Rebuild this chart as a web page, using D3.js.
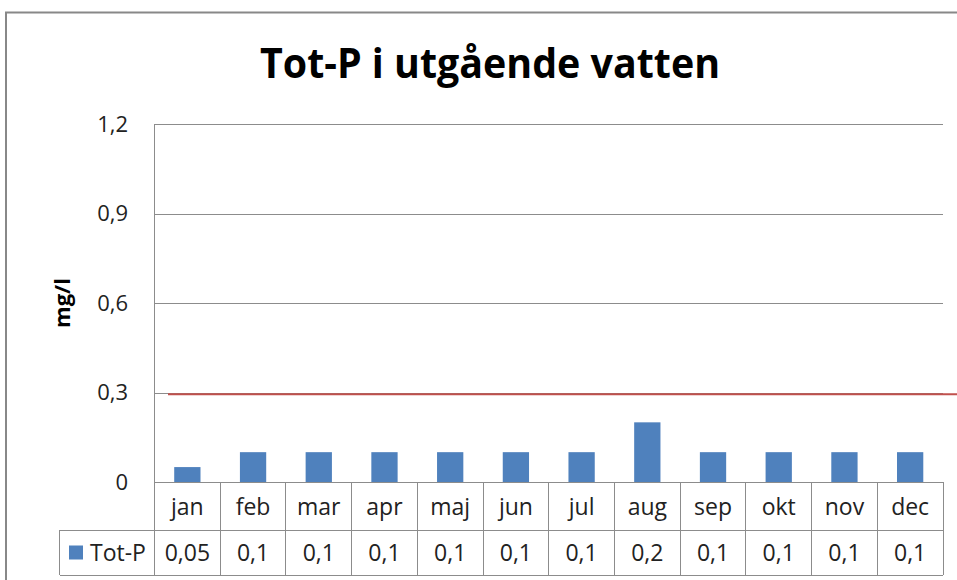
<!DOCTYPE html>
<html>
<head>
<meta charset="utf-8">
<script src="https://cdn.jsdelivr.net/npm/d3@7"></script>
<style>
  body { margin: 0; background: #fff; }
  svg { display: block; font-family: "Open Sans", sans-serif; }
</style>
</head>
<body>
<div id="chart"></div>
<script>
'use strict'

// data
const months = ["jan", "feb", "mar", "apr", "maj", "jun", "jul", "aug", "sep", "okt", "nov", "dec"];
const totP = [0.05, 0.1, 0.1, 0.1, 0.1, 0.1, 0.1, 0.2, 0.1, 0.1, 0.1, 0.1];
const yTicks = [0, 0.3, 0.6, 0.9, 1.2];
const limitValue = 0.294;
const seriesName = "Tot-P";
const title = "Tot-P i utgående vatten";
const yLabel = "mg/l";

const W = 957, H = 580;
const plot = {left: 154.5, right: 943, top: 124, bottom: 482};
const rowH = [48, 45];
const tableLeft = 59.5;
const blue = "#4F81BD";
const grey = "#8C8C8C";

const fmt = v => String(v).replace(".", ",");

const svg = d3.select("#chart").append("svg")
    .attr("width", W)
    .attr("height", H);

// chart area border
svg.append("rect")
    .attr("x", 6).attr("y", 12.5)
    .attr("width", W + 10).attr("height", H + 10)
    .attr("fill", "#fff")
    .attr("stroke", "#888")
    .attr("stroke-width", 2);

// title
svg.append("text")
    .attr("x", 490).attr("y", 78)
    .attr("text-anchor", "middle")
    .attr("font-size", 41)
    .attr("font-weight", "bold")
    .attr("textLength", 460)
    .attr("lengthAdjust", "spacingAndGlyphs")
    .attr("fill", "#000")
    .text(title);

const y = d3.scaleLinear()
    .domain([0, 1.2])
    .range([plot.bottom, plot.top]);

const x = d3.scaleBand()
    .domain(months)
    .range([plot.left, plot.right])
    .paddingInner(0.6)
    .paddingOuter(0.3);

const cols = d3.scaleBand()
    .domain(months)
    .range([plot.left, plot.right]);

// gridlines
svg.append("g")
    .attr("transform", `translate(${plot.left},0)`)
    .call(d3.axisLeft(y).tickValues(yTicks).tickSize(-(plot.right - plot.left)).tickFormat(""))
    .call(g => g.select(".domain").remove())
    .call(g => g.selectAll("line").attr("stroke", grey).attr("stroke-width", 1).attr("shape-rendering", "crispEdges"));

// y axis line
svg.append("line")
    .attr("x1", plot.left).attr("x2", plot.left)
    .attr("y1", plot.top).attr("y2", plot.bottom)
    .attr("stroke", grey)
    .attr("shape-rendering", "crispEdges");

// y tick labels
svg.append("g")
    .selectAll("text")
    .data(yTicks)
    .join("text")
    .attr("x", 128)
    .attr("y", d => y(d))
    .attr("dy", "0.35em")
    .attr("text-anchor", "end")
    .attr("font-size", 22)
    .attr("fill", "#222")
    .text(d => fmt(d));

// y label
svg.append("text")
    .attr("transform", `translate(70,${(plot.top + plot.bottom) / 2}) rotate(-90)`)
    .attr("text-anchor", "middle")
    .attr("font-size", 22)
    .attr("font-weight", "bold")
    .attr("fill", "#000")
    .text(yLabel);

// bars
svg.append("g")
    .selectAll("rect")
    .data(months.map((m, i) => ({m, v: totP[i]})))
    .join("rect")
    .attr("x", d => x(d.m))
    .attr("y", d => y(d.v))
    .attr("width", x.bandwidth())
    .attr("height", d => y(0) - y(d.v))
    .attr("fill", blue);

// red limit line
svg.append("line")
    .attr("x1", 168).attr("x2", W)
    .attr("y1", y(limitValue)).attr("y2", y(limitValue))
    .attr("stroke", "#C0504D")
    .attr("stroke-width", 2);

// data table
const row1 = plot.bottom, row2 = row1 + rowH[0], row3 = row2 + rowH[1];
const table = svg.append("g")
    .attr("stroke", grey)
    .attr("shape-rendering", "crispEdges");

table.append("line").attr("x1", plot.left).attr("x2", plot.right).attr("y1", row1).attr("y2", row1);
table.append("line").attr("x1", tableLeft).attr("x2", plot.right).attr("y1", row2).attr("y2", row2);
table.append("line").attr("x1", tableLeft).attr("x2", plot.right).attr("y1", row3).attr("y2", row3);
table.append("line").attr("x1", tableLeft).attr("x2", tableLeft).attr("y1", row2).attr("y2", row3);
table.selectAll(".vl")
    .data(months.concat(["end"]))
    .join("line")
    .attr("class", "vl")
    .attr("x1", d => d === "end" ? plot.right : cols(d))
    .attr("x2", d => d === "end" ? plot.right : cols(d))
    .attr("y1", row1).attr("y2", row3);

svg.append("g")
    .selectAll("text")
    .data(months)
    .join("text")
    .attr("x", d => cols(d) + cols.bandwidth() / 2)
    .attr("y", (row1 + row2) / 2 + 1)
    .attr("dy", "0.35em")
    .attr("text-anchor", "middle")
    .attr("font-size", 23)
    .attr("fill", "#222")
    .text(d => d);

svg.append("g")
    .selectAll("text")
    .data(months.map((m, i) => ({m, v: totP[i]})))
    .join("text")
    .attr("x", d => cols(d.m) + cols.bandwidth() / 2)
    .attr("y", (row2 + row3) / 2)
    .attr("dy", "0.35em")
    .attr("text-anchor", "middle")
    .attr("font-size", 23)
    .attr("fill", "#222")
    .text(d => fmt(d.v));

// legend key in table
svg.append("rect")
    .attr("x", 69).attr("y", (row2 + row3) / 2 - 7)
    .attr("width", 14).attr("height", 14)
    .attr("fill", blue);

svg.append("text")
    .attr("x", 90)
    .attr("y", (row2 + row3) / 2)
    .attr("dy", "0.35em")
    .attr("font-size", 23)
    .attr("fill", "#222")
    .text(seriesName);
</script>
</body>
</html>
